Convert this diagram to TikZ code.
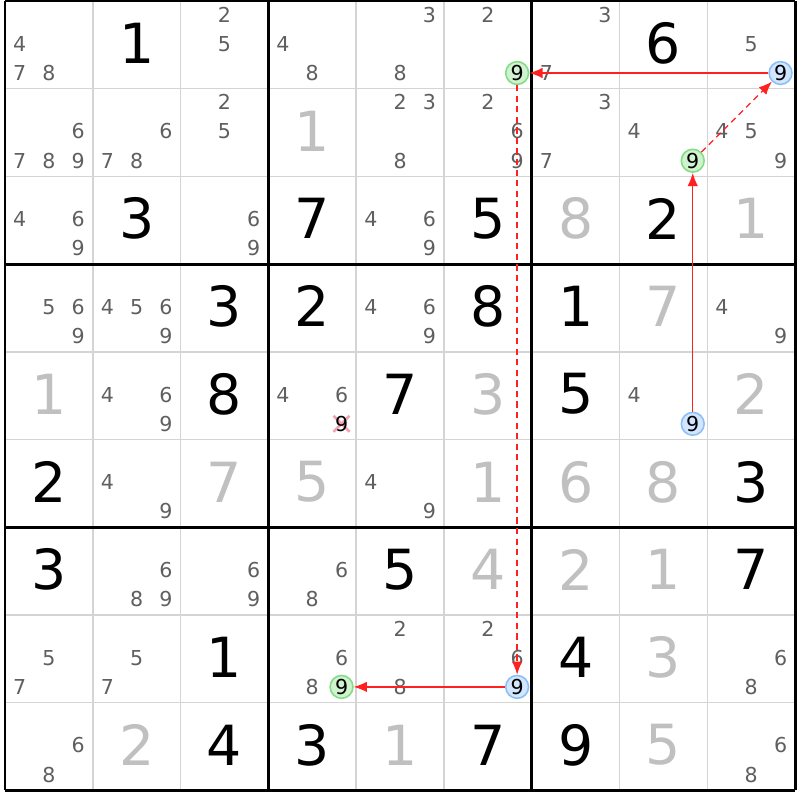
\documentclass[tikz,border=0pt]{standalone}
\usepackage{fontspec}
\setmainfont{DejaVu Sans}
\usetikzlibrary{arrows.meta}

\definecolor{candgray}{HTML}{5F5F5F}
\definecolor{solvedgray}{HTML}{C0C0C0}
\definecolor{gridgray}{HTML}{D4D4D4}
\definecolor{linkred}{HTML}{FF2020}
\definecolor{onfill}{HTML}{CFF2CF}
\definecolor{ondraw}{HTML}{86DB86}
\definecolor{offfill}{HTML}{D2E6FF}
\definecolor{offdraw}{HTML}{8CBFF5}
\definecolor{crosspink}{HTML}{F4A3B3}

% cell centre and candidate position, in pixels of the 800x800 picture
\newcommand{\cellxy}[2]{\pgfmathsetmacro\cx{5+(#2-0.5)*87.8}\pgfmathsetmacro\cy{1+(#1-0.5)*87.7-1.5}}
\newcommand{\candxy}[3]{\pgfmathsetmacro\cx{5+(#2-1)*87.8+14.6+29.27*mod(#3-1,3)}%
  \pgfmathsetmacro\cy{1+(#1-1)*87.7+13.6+29.2*floor((#3-1)/3)}}
\newcommand{\cands}[3]{\foreach \v in {#3}{\candxy{#1}{#2}{\v}\node[cand] at (\cx,\cy) {\v};}}

\tikzset{
  given/.style={font=\fontsize{31.5}{32}\selectfont, text=black, inner sep=0pt},
  solved/.style={given, text=solvedgray},
  cand/.style={font=\fontsize{11.7}{12}\selectfont, text=candgray, inner sep=0pt},
  oncand/.style={cand, text=black, circle, draw=ondraw, fill=onfill, line width=0.9pt, minimum size=13pt},
  offcand/.style={oncand, draw=offdraw, fill=offfill},
  thinline/.style={draw=gridgray, line width=0.9pt},
  boxline/.style={draw=black, line width=1.6pt},
  link/.style={draw=linkred, line width=0.75pt, -{Latex[length=7.5pt,width=6pt]}},
  weaklink/.style={link, dash pattern=on 3.5pt off 2.5pt},
  elim/.style={draw=crosspink, line width=1.5pt}
}

\begin{document}
\begin{tikzpicture}[x=0.02cm, y=-0.02cm]
  \useasboundingbox (0,0) rectangle (800,800);
  \fill[white] (0,0) rectangle (800,800);

  %%% grid
  \foreach \i in {1,2,4,5,7,8}{
    \draw[thinline] (5+\i*87.8,1) -- (5+\i*87.8,790);
    \draw[thinline] (5,1+\i*87.7) -- (795,1+\i*87.7);
  }
  \foreach \i in {0,3,6,9}{
    \draw[boxline] (5+\i*87.8,1) -- (5+\i*87.8,790);
    \draw[boxline] (5,1+\i*87.7) -- (795,1+\i*87.7);
  }

  %%% givens
  \foreach \r/\c/\v in {1/2/1, 1/8/6, 3/2/3, 3/4/7, 3/6/5, 3/8/2,
      4/3/3, 4/4/2, 4/6/8, 4/7/1, 5/3/8, 5/5/7, 5/7/5, 6/1/2, 6/9/3,
      7/1/3, 7/5/5, 7/9/7, 8/3/1, 8/7/4, 9/3/4, 9/4/3, 9/6/7, 9/7/9}
    {\cellxy{\r}{\c}\node[given] at (\cx,\cy) {\v};}

  %%% solved cells
  \foreach \r/\c/\v in {2/4/1, 3/7/8, 3/9/1, 4/8/7, 5/1/1, 5/6/3, 5/9/2,
      6/3/7, 6/4/5, 6/6/1, 6/7/6, 6/8/8, 7/6/4, 7/7/2, 7/8/1, 8/8/3,
      9/2/2, 9/5/1, 9/8/5}
    {\cellxy{\r}{\c}\node[solved] at (\cx,\cy) {\v};}

  %%% candidates
  \cands{1}{1}{4,7,8} \cands{1}{3}{2,5} \cands{1}{4}{4,8} \cands{1}{5}{3,8}
  \cands{1}{6}{2} \cands{1}{7}{3,7} \cands{1}{9}{5}
  \cands{2}{1}{6,7,8,9} \cands{2}{2}{6,7,8} \cands{2}{3}{2,5} \cands{2}{5}{2,3,8}
  \cands{2}{6}{2,6,9} \cands{2}{7}{3,7} \cands{2}{8}{4} \cands{2}{9}{4,5,9}
  \cands{3}{1}{4,6,9} \cands{3}{3}{6,9} \cands{3}{5}{4,6,9}
  \cands{4}{1}{5,6,9} \cands{4}{2}{4,5,6,9} \cands{4}{5}{4,6,9} \cands{4}{9}{4,9}
  \cands{5}{2}{4,6,9} \cands{5}{4}{4,6} \cands{5}{8}{4}
  \cands{6}{2}{4,9} \cands{6}{5}{4,9}
  \cands{7}{2}{6,8,9} \cands{7}{3}{6,9} \cands{7}{4}{6,8}
  \cands{8}{1}{5,7} \cands{8}{2}{5,7} \cands{8}{4}{6,8} \cands{8}{5}{2,8}
  \cands{8}{6}{2,6} \cands{8}{9}{6,8}
  \cands{9}{1}{6,8} \cands{9}{9}{6,8}

  %%% eliminated 9
  \candxy{5}{4}{9}
  \draw[elim] (\cx-8,\cy-8) -- (\cx+8,\cy+8);
  \draw[elim] (\cx-8,\cy+8) -- (\cx+8,\cy-8);
  \node[cand, text=black] (r5c4) at (\cx,\cy) {9};

  %%% chain
  \candxy{1}{6}{9}\node[oncand] (r1c6) at (\cx,\cy) {9};
  \candxy{1}{9}{9}\node[offcand] (r1c9) at (\cx,\cy) {9};
  \candxy{2}{8}{9}\node[oncand] (r2c8) at (\cx,\cy) {9};
  \candxy{5}{8}{9}\node[offcand] (r5c8) at (\cx,\cy) {9};
  \candxy{8}{6}{9}\node[offcand] (r8c6) at (\cx,\cy) {9};
  \candxy{8}{4}{9}\node[oncand] (r8c4) at (\cx,\cy) {9};

  \draw[link] (r1c9) -- (r1c6);
  \draw[weaklink] (r1c6) -- (r8c6);
  \draw[link] (r8c6) -- (r8c4);
  \draw[link] (r5c8) -- (r2c8);
  \draw[weaklink] (r2c8) -- (r1c9);
\end{tikzpicture}
\end{document}
